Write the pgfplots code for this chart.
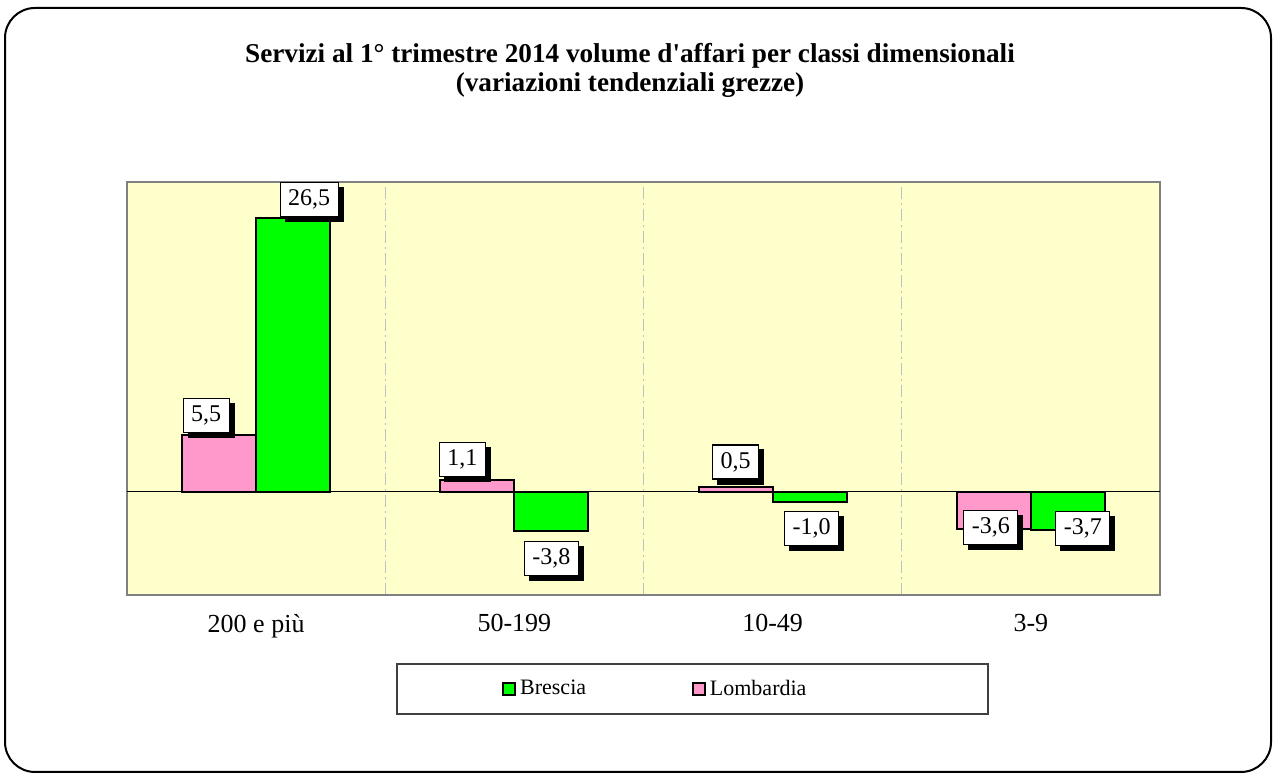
\documentclass[border=0pt]{standalone}
\usepackage{pgfplots}
\pgfplotsset{compat=1.18}
\usepackage{pgfplotstable}
\usepackage{fontspec}
\setmainfont{Liberation Serif}
\usetikzlibrary{shadows}
\definecolor{bgyellow}{HTML}{FFFFCC}
\definecolor{brgreen}{HTML}{00FF00}
\definecolor{lopink}{HTML}{FF99CC}
\definecolor{gridgray}{HTML}{C0C0C0}
\definecolor{framegray}{HTML}{808080}

\pgfplotstableread{
x y dx dy
0 5.5 -6.5 1
1 1.1 -7.5 1.5
2 0.5 0 3.5
3 -3.6 -1.5 9.5
}\lombardia
\pgfplotstableread{
x y dx dy
0 26.5 8 0.5
1 -3.8 0 -5
2 -1.0 1 -4.5
3 -3.7 7.5 9.5
}\brescia

\begin{document}
\begin{tikzpicture}
\path[use as bounding box] (0,0) rectangle (636.5pt,387pt);
\draw[line width=1pt, rounded corners=15pt] (2.5pt,1pt) rectangle (635.5pt,383pt);
\node[font=\fontsize{13.6}{15}\selectfont\bfseries] at (315pt,359pt) {Servizi al 1° trimestre 2014 volume d\textquotesingle affari per classi dimensionali};
\node[font=\fontsize{13.6}{15}\selectfont\bfseries] at (315pt,344.5pt) {(variazioni tendenziali grezze)};
\draw[line width=0.8pt, draw=black!75] (198.5pt,30pt) rectangle (494pt,55pt);
\begin{axis}[
  at={(63.5pt,89.5pt)}, anchor=south west,
  scale only axis, width=516.5pt, height=206.5pt,
  xmin=-0.5, xmax=3.5, ymin=-10, ymax=30,
  ybar,
  bar width=37pt,
  axis background/.style={fill=bgyellow},
  axis line style={draw=framegray, line width=1pt},
  xtick={0,1,2,3},
  xticklabels={200 e più,50-199,10-49,3-9},
  xticklabel style={font=\fontsize{13}{15}\selectfont, yshift=-6pt},
  major tick length=0pt,
  minor tick length=0pt,
  minor xtick={0.5,1.5,2.5},
  xminorgrids=true,
  minor grid style={draw=gridgray, line width=0.6pt, dash pattern=on 6pt off 2pt on 1pt off 2pt},
  ytick=\empty,
  extra y ticks={0},
  extra y tick labels={},
  extra y tick style={grid=major, major grid style={draw=black, line width=0.7pt}},
  legend style={at={(0.5125,-0.2276)}, anchor=center, draw=none, fill=none,
    font=\fontsize{11}{13}\selectfont, legend columns=2,
    /tikz/every even column/.append style={column sep=51pt}},
  legend image code/.code={\draw[#1, draw=black, line width=0.9pt] (0pt,-3pt) rectangle (6pt,3pt);},
  nodes near coords={\pgfmathprintnumber[fixed, fixed zerofill, precision=1, use comma, assume math mode=true]{\pgfplotspointmeta}},
  nodes near coords align={vertical},
  visualization depends on={\thisrow{dx} \as \dx},
  visualization depends on={\thisrow{dy} \as \dy},
  every node near coord/.append style={
    font=\fontsize{12}{14}\selectfont, text=black, fill=white, draw=black, line width=0.6pt,
    inner xsep=4pt, inner ysep=0pt, minimum height=17pt,
    xshift=\dx pt, yshift=\dy pt,
    drop shadow={shadow xshift=2.5pt, shadow yshift=-2.5pt, fill=black, opacity=1}},
]
\addlegendimage{fill=brgreen}
\addlegendentry{Brescia}
\addlegendimage{fill=lopink}
\addlegendentry{Lombardia}
\addplot[ybar, bar shift=-18.5pt, fill=lopink, draw=black, line width=1pt] table[x=x,y=y] {\lombardia};
\addplot[ybar, bar shift=18.5pt, fill=brgreen, draw=black, line width=1pt] table[x=x,y=y] {\brescia};
\end{axis}
\end{tikzpicture}
\end{document}
